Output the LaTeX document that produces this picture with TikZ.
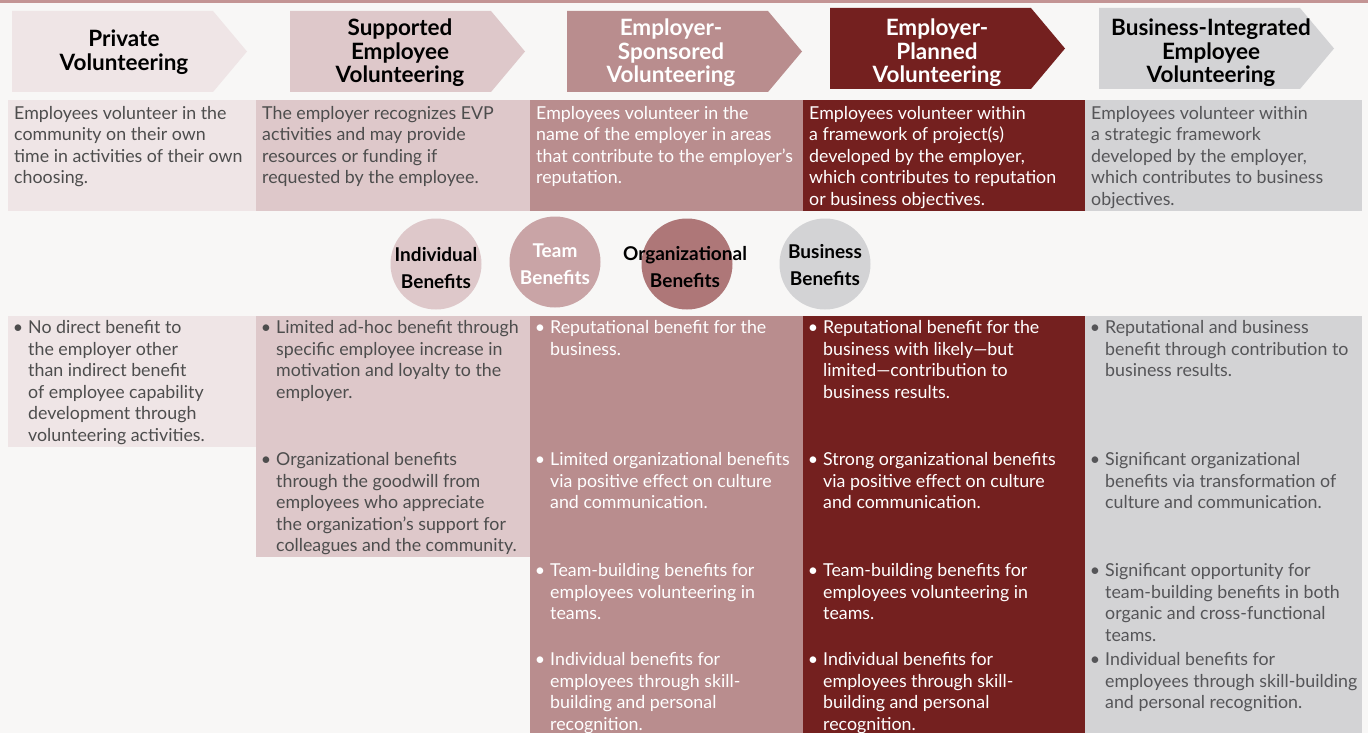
\documentclass[tikz,border=0pt]{standalone}
\usepackage{fontspec}
\setmainfont{Lato}
\definecolor{bg}{HTML}{F8F7F6}
\definecolor{pkA}{HTML}{EFE5E6}
\definecolor{pkB}{HTML}{DEC8CA}
\definecolor{pkC}{HTML}{B98D8E}
\definecolor{mar}{HTML}{74201F}
\definecolor{gry}{HTML}{D3D3D5}
\definecolor{band}{HTML}{C39494}
\definecolor{cteam}{HTML}{C9A4A6}
\definecolor{corg}{HTML}{AE7778}
\definecolor{txtA}{HTML}{4D4D4D}
\definecolor{txtB}{HTML}{555558}
\newcommand{\bodyfnt}{\fontsize{17.8}{21.5}\selectfont}
\newcommand{\bul}{\llap{\textbullet\hspace{5pt}}}
\tikzset{
  body/.style={anchor=north west, align=left, inner sep=0pt, font=\bodyfnt},
  hdr/.style={align=center, inner sep=0pt, font=\bfseries\fontsize{22.5}{23.5}\selectfont},
  circ/.style={circle, minimum size=91pt, inner sep=0pt},
  clab/.style={align=center, inner sep=0pt, font=\bfseries\fontsize{19}{27}\selectfont},
}
\begin{document}
\begin{tikzpicture}[x=1pt,y=-1pt]
\useasboundingbox (0,0) rectangle (1368,733);
\fill[bg] (0,0) rectangle (1368,733);
\fill[band] (0,0) rectangle (1368,3.5);

% header chevrons
\fill[pkA] (12,11) -- (213,11) -- (247,51.5) -- (213,92) -- (12,92) -- cycle;
\fill[pkB] (290,11) -- (491,11) -- (525,51.5) -- (491,92) -- (290,92) -- cycle;
\fill[pkC] (567,11) -- (768,11) -- (802,51.5) -- (768,92) -- (567,92) -- cycle;
\fill[mar] (830,8) -- (1031,8) -- (1065,48.5) -- (1031,89) -- (830,89) -- cycle;
\fill[gry] (1099,8) -- (1300,8) -- (1334,48.5) -- (1300,89) -- (1099,89) -- cycle;

\node[hdr, text=black] (h1) at (124,52) {Private\\Volunteering};
\node[hdr, text=black] (h2) at (400,53) {Supported\\Employee\\Volunteering};
\node[hdr, text=white] (h3) at (671,53) {Employer-\\Sponsored\\Volunteering};
\node[hdr, text=white] (h4) at (937,53) {Employer-\\Planned\\Volunteering};
\node[hdr, text=black] (h5) at (1211,53) {Business-Integrated\\Employee\\Volunteering};

% description row
\fill[pkA] (8,100) rectangle (256,211);
\fill[pkB] (256,100) rectangle (530,211);
\fill[pkC] (530,100) rectangle (803,211);
\fill[mar] (803,100) rectangle (1085,211);
\fill[gry] (1085,100) rectangle (1362,211);

\node[body, text=txtA] (d1) at (14,104) {\strut Employees volunteer in the\\community on their own\\time in activities of their own\\choosing.};
\node[body, text=txtA] (d2) at (262,104) {\strut The employer recognizes EVP\\activities and may provide\\resources or funding if\\requested by the employee.};
\node[body, text=white] (d3) at (536,104) {\strut Employees volunteer in the\\name of the employer in areas\\that contribute to the employer’s\\reputation.};
\node[body, text=white] (d4) at (809,104) {\strut Employees volunteer within\\a framework of project(s)\\developed by the employer,\\which contributes to reputation\\or business objectives.};
\node[body, text=txtB] (d5) at (1091,104) {\strut Employees volunteer within\\a strategic framework\\developed by the employer,\\which contributes to business\\objectives.};

% benefit circles
\node[circ, fill=pkB] (ci) at (436,264) {};
\node[circ, fill=cteam] (ct) at (555,262) {};
\node[circ, fill=corg] (co) at (687,264) {};
\node[circ, fill=gry] (cb) at (825,264) {};
\node[clab, text=black] (cil) at (436,268) {Individual\\Benefits};
\node[clab, text=white] (ctl) at (555,264) {Team\\Benefits};
\node[clab, text=black] (col) at (685,267) {Organizational\\Benefits};
\node[clab, text=black] (cbl) at (825,265) {Business\\Benefits};

% benefit columns
\fill[pkA] (8,316) rectangle (256,447);
\fill[pkB] (256,316) rectangle (530,557);
\fill[pkC] (530,316) rectangle (803,733);
\fill[mar] (803,316) rectangle (1085,733);
\fill[gry] (1085,316) rectangle (1362,733);

% column 1
\node[body, text=txtA] (b11) at (28,318.5) {\strut\bul No direct benefit to\\the employer other\\than indirect benefit\\of employee capability\\development through\\volunteering activities.};
% column 2
\node[body, text=txtA] (b21) at (276,318.5) {\strut\bul Limited ad-hoc benefit through\\specific employee increase in\\motivation and loyalty to the\\employer.};
\node[body, text=txtA] (b22) at (276,450.5) {\strut\bul Organizational benefits\\through the goodwill from\\employees who appreciate\\the organization’s support for\\colleagues and the community.};
% column 3
\node[body, text=white] (b31) at (550,318.5) {\strut\bul Reputational benefit for the\\business.};
\node[body, text=white] (b32) at (550,450.5) {\strut\bul Limited organizational benefits\\via positive effect on culture\\and communication.};
\node[body, text=white] (b33) at (550,561.5) {\strut\bul Team-building benefits for\\employees volunteering in\\teams.};
\node[body, text=white] (b34) at (550,650.5) {\strut\bul Individual benefits for\\employees through skill-\\building and personal\\recognition.};
% column 4
\node[body, text=white] (b41) at (823,318.5) {\strut\bul Reputational benefit for the\\business with likely—but\\limited—contribution to\\business results.};
\node[body, text=white] (b42) at (823,450.5) {\strut\bul Strong organizational benefits\\via positive effect on culture\\and communication.};
\node[body, text=white] (b43) at (823,561.5) {\strut\bul Team-building benefits for\\employees volunteering in\\teams.};
\node[body, text=white] (b44) at (823,650.5) {\strut\bul Individual benefits for\\employees through skill-\\building and personal\\recognition.};
% column 5
\node[body, text=txtB] (b51) at (1105,318.5) {\strut\bul Reputational and business\\benefit through contribution to\\business results.};
\node[body, text=txtB] (b52) at (1105,450.5) {\strut\bul Significant organizational\\benefits via transformation of\\culture and communication.};
\node[body, text=txtB] (b53) at (1105,561.5) {\strut\bul Significant opportunity for\\team-building benefits in both\\organic and cross-functional\\teams.};
\node[body, text=txtB] (b54) at (1105,650.5) {\strut\bul Individual benefits for\\employees through skill-building\\and personal recognition.};
\end{tikzpicture}
\end{document}
